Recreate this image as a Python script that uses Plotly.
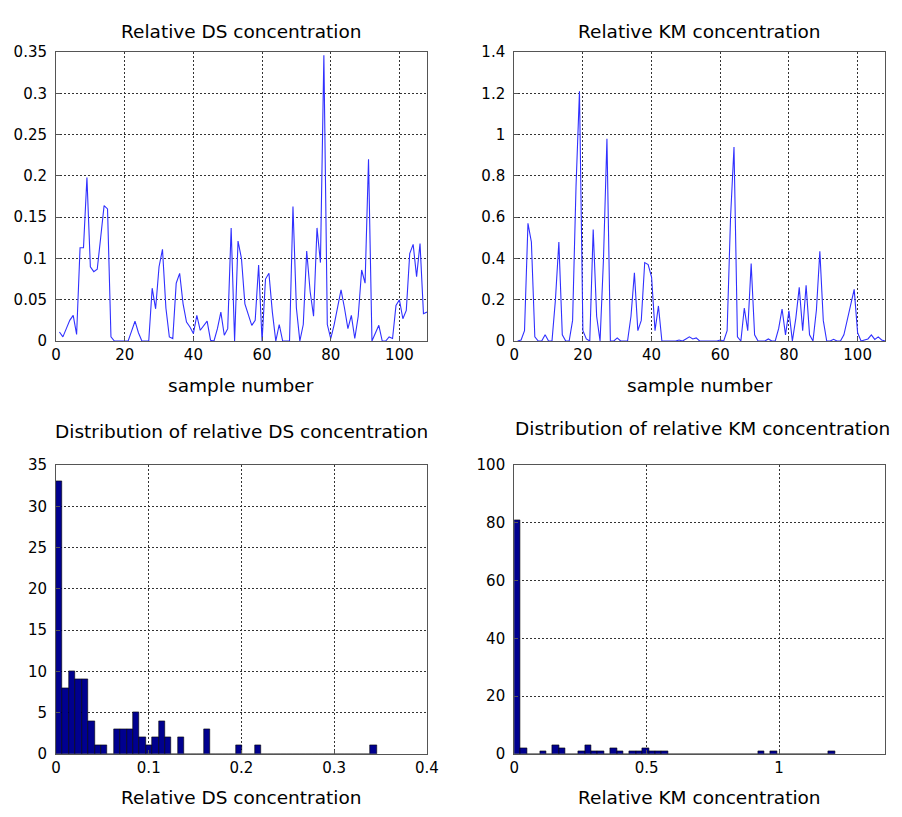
import plotly.graph_objects as go

# ---------------- data ----------------
sample_numbers = list(range(1, 109))

ds_values = [
    0.011, 0.005, 0.015, 0.025, 0.031, 0.008, 0.113, 0.113, 0.198, 0.090,
    0.084, 0.087, 0.125, 0.164, 0.160, 0.005, 0.000, 0.000, 0.000, 0.000,
    0.000, 0.012, 0.024, 0.010, 0.000, 0.000, 0.000, 0.064, 0.039, 0.090,
    0.111, 0.040, 0.005, 0.003, 0.070, 0.082, 0.045, 0.023, 0.017, 0.009,
    0.031, 0.013, 0.018, 0.024, 0.001, 0.000, 0.015, 0.035, 0.007, 0.015,
    0.137, 0.000, 0.121, 0.100, 0.045, 0.033, 0.019, 0.025, 0.092, 0.000,
    0.075, 0.082, 0.035, 0.000, 0.020, 0.000, 0.000, 0.000, 0.163, 0.040,
    0.000, 0.020, 0.109, 0.060, 0.030, 0.137, 0.095, 0.346, 0.020, 0.003,
    0.020, 0.040, 0.062, 0.040, 0.015, 0.031, 0.003, 0.030, 0.086, 0.070,
    0.220, 0.000, 0.010, 0.019, 0.000, 0.000, 0.005, 0.003, 0.043, 0.050,
    0.027, 0.037, 0.106, 0.117, 0.078, 0.118, 0.033, 0.035,
]

km_values = [
    0.000, 0.005, 0.050, 0.570, 0.480, 0.020, 0.000, 0.000, 0.030, 0.000,
    0.000, 0.200, 0.480, 0.030, 0.000, 0.000, 0.100, 0.750, 1.210, 0.050,
    0.010, 0.000, 0.540, 0.120, 0.000, 0.400, 0.980, 0.000, 0.000, 0.015,
    0.000, 0.000, 0.000, 0.120, 0.330, 0.050, 0.100, 0.380, 0.370, 0.310,
    0.050, 0.170, 0.000, 0.000, 0.000, 0.000, 0.000, 0.005, 0.000, 0.010,
    0.020, 0.010, 0.015, 0.000, 0.000, 0.000, 0.000, 0.000, 0.000, 0.005,
    0.000, 0.050, 0.600, 0.940, 0.020, 0.000, 0.160, 0.050, 0.375, 0.030,
    0.000, 0.000, 0.000, 0.010, 0.000, 0.000, 0.060, 0.155, 0.030, 0.146,
    0.000, 0.110, 0.260, 0.050, 0.270, 0.030, 0.000, 0.150, 0.435, 0.100,
    0.000, 0.000, 0.008, 0.000, 0.000, 0.030, 0.100, 0.180, 0.250, 0.040,
    0.000, 0.005, 0.010, 0.030, 0.008, 0.020, 0.005, 0.000,
]

# histogram counts (50 equal bins from 0 to the series maximum)
ds_hist_counts = [
    33, 8, 10, 9, 9, 4, 1, 1, 0, 3,
    3, 3, 5, 2, 1, 2, 4, 2, 0, 2,
    0, 0, 0, 3, 0, 0, 0, 0, 1, 0,
    0, 1, 0, 0, 0, 0, 0, 0, 0, 0,
    0, 0, 0, 0, 0, 0, 0, 0, 0, 1,
]
km_hist_counts = [
    81, 2, 0, 0, 1, 0, 3, 2, 0, 0,
    1, 3, 1, 1, 0, 2, 1, 0, 1, 1,
    2, 1, 1, 1, 0, 0, 0, 0, 0, 0,
    0, 0, 0, 0, 0, 0, 0, 0, 1, 0,
    1, 0, 0, 0, 0, 0, 0, 0, 0, 1,
]

tl_yticks = [0, 0.05, 0.1, 0.15, 0.2, 0.25, 0.3, 0.35]
tl_yticktext = ["0", "0.05", "0.1", "0.15", "0.2", "0.25", "0.3", "0.35"]
tr_yticks = [0, 0.2, 0.4, 0.6, 0.8, 1.0, 1.2, 1.4]
tr_yticktext = ["0", "0.2", "0.4", "0.6", "0.8", "1", "1.2", "1.4"]
sample_xticks = [0, 20, 40, 60, 80, 100]
bl_xticks = [0, 0.1, 0.2, 0.3, 0.4]
bl_xticktext = ["0", "0.1", "0.2", "0.3", "0.4"]
bl_yticks = [0, 5, 10, 15, 20, 25, 30, 35]
br_xticks = [0, 0.5, 1]
br_xticktext = ["0", "0.5", "1"]
br_yticks = [0, 20, 40, 60, 80, 100]

# ---------------- figure ----------------
W, H = 902, 817
FONT = "DejaVu Sans, Liberation Sans, Arial, sans-serif"

def xd(a, b):
    return [a / W, b / W]

def yd(top, bottom):
    return [1 - bottom / H, 1 - top / H]

n_bins = len(ds_hist_counts)
ds_w = max(ds_values) / n_bins
km_w = max(km_values) / len(km_hist_counts)
ds_centers = [(k + 0.5) * ds_w for k in range(n_bins)]
km_centers = [(k + 0.5) * km_w for k in range(len(km_hist_counts))]

fig = go.Figure()
line_color = "#3030ff"
bar_color = "#00008f"

fig.add_trace(go.Scatter(x=sample_numbers, y=ds_values, mode="lines",
                         line=dict(color=line_color, width=1.1), xaxis="x", yaxis="y"))
fig.add_trace(go.Scatter(x=sample_numbers, y=km_values, mode="lines",
                         line=dict(color=line_color, width=1.1), xaxis="x2", yaxis="y2"))
fig.add_trace(go.Bar(x=ds_centers, y=ds_hist_counts, width=ds_w,
                     marker=dict(color=bar_color, line=dict(color="black", width=0.6)),
                     xaxis="x3", yaxis="y3"))
fig.add_trace(go.Bar(x=km_centers, y=km_hist_counts, width=km_w,
                     marker=dict(color=bar_color, line=dict(color="black", width=0.6)),
                     xaxis="x4", yaxis="y4"))

common = dict(
    showline=True, mirror=True, linecolor="#555555", linewidth=1,
    showgrid=True, gridcolor="#333333", gridwidth=1, griddash="2px,2px",
    zeroline=False, ticks="inside", ticklen=4, tickcolor="#555555",
    tickfont=dict(family=FONT, size=15, color="black"),
)
ycommon = dict(common, ticklabelstandoff=5)

L1, R1 = 52, 430
L2, R2 = 519, 897
T1, B1 = 44, 339.5
T2, B2 = 466.5, 761.5

fig.update_layout(
    width=W, height=H,
    margin=dict(l=0, r=0, t=0, b=0),
    paper_bgcolor="white", plot_bgcolor="white",
    showlegend=False, bargap=0,
    xaxis=dict(domain=xd(L1, R1), anchor="y", range=[0, 108],
               tickvals=sample_xticks, **common),
    yaxis=dict(domain=yd(T1, B1), anchor="x", range=[0, 0.35],
               tickvals=tl_yticks, ticktext=tl_yticktext, **ycommon),
    xaxis2=dict(domain=xd(L2, R2), anchor="y2", range=[0, 108],
                tickvals=sample_xticks, **common),
    yaxis2=dict(domain=yd(T1, B1), anchor="x2", range=[0, 1.4],
                tickvals=tr_yticks, ticktext=tr_yticktext, **ycommon),
    xaxis3=dict(domain=xd(L1, R1), anchor="y3", range=[0, 0.4],
                tickvals=bl_xticks, ticktext=bl_xticktext, **common),
    yaxis3=dict(domain=yd(T2, B2), anchor="x3", range=[0, 35],
                tickvals=bl_yticks, **ycommon),
    xaxis4=dict(domain=xd(L2, R2), anchor="y4", range=[0, 1.4],
                tickvals=br_xticks, ticktext=br_xticktext, **common),
    yaxis4=dict(domain=yd(T2, B2), anchor="x4", range=[0, 100],
                tickvals=br_yticks, **ycommon),
)

def ann(text, xc, yc, size=18.5):
    fig.add_annotation(text=text, x=xc / W, y=1 - yc / H, xref="paper", yref="paper",
                       showarrow=False, xanchor="center", yanchor="middle",
                       font=dict(family=FONT, size=size, color="black"))

ann("Relative DS concentration", 241, 23)
ann("Relative KM concentration", 708, 23)
ann("sample number", 241, 385)
ann("sample number", 708, 385)
ann("Distribution of relative DS concentration", 241, 432)
ann("Distribution of relative KM concentration", 711, 429)
ann("Relative DS concentration", 241, 806)
ann("Relative KM concentration", 708, 806)

fig.write_html("out.html")
